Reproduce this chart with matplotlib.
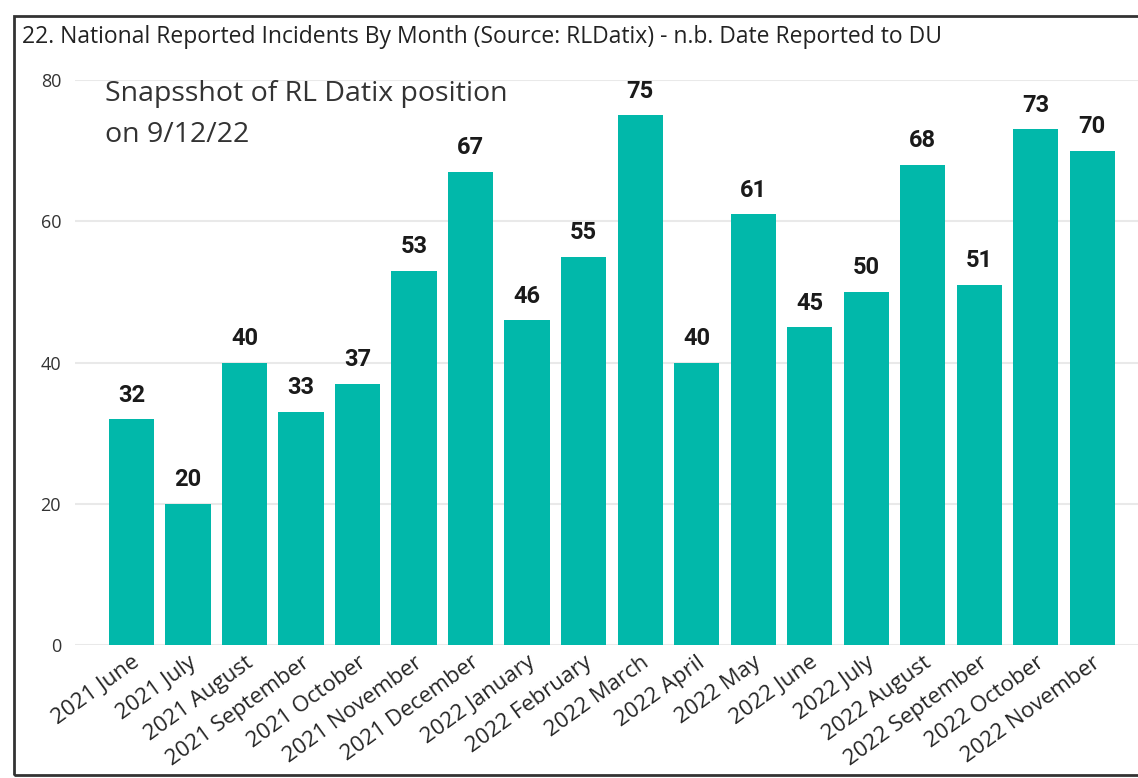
import matplotlib
matplotlib.use("Agg")
import matplotlib.pyplot as plt
from matplotlib.patches import Rectangle

months = ["2021 June", "2021 July", "2021 August", "2021 September", "2021 October",
          "2021 November", "2021 December", "2022 January", "2022 February", "2022 March",
          "2022 April", "2022 May", "2022 June", "2022 July", "2022 August",
          "2022 September", "2022 October", "2022 November"]
incidents = [32, 20, 40, 33, 37, 53, 67, 46, 55, 75, 40, 61, 45, 50, 68, 51, 73, 70]
yticks = [0, 20, 40, 60, 80]

title = "22. National Reported Incidents By Month (Source: RLDatix) - n.b. Date Reported to DU"
note_lines = ["Snapsshot of RL Datix position", "on 9/12/22"]

W, H = 1138, 778
fig = plt.figure(figsize=(W / 100, H / 100), dpi=100)
fig.patch.set_facecolor("white")

ax = fig.add_axes([75 / W, 1 - 645 / H, 1 - 75 / W, (645 - 80) / H])
x = list(range(len(months)))
ax.bar(x, incidents, width=0.8, color="#01B8AA", zorder=3)
ax.set_xlim(-1.0, 17.81)
ax.set_ylim(0, 80)
ax.set_yticks(yticks)
ax.grid(axis="y", color="#e9e9e9", linewidth=1.5, zorder=0)
for s in ax.spines.values():
    s.set_visible(False)
ax.tick_params(axis="both", length=0)
ax.tick_params(axis="y", pad=10, labelsize=13, labelcolor="#333333")
ax.set_yticklabels([str(v) for v in yticks], family=["Open Sans", "DejaVu Sans"])
ax.set_xticks(x)
ax.set_xticklabels(months, rotation=36, ha="right", rotation_mode="anchor",
                   fontsize=16, color="#252525", family=["Open Sans", "DejaVu Sans"])
ax.tick_params(axis="x", pad=5)

for xi, v in zip(x, incidents):
    ax.annotate(str(v), (xi, v), xytext=(0, 9), textcoords="offset points",
                ha="center", va="bottom", fontsize=17, fontweight="bold",
                family=["Roboto", "DejaVu Sans"], color="#1a1a1a", clip_on=False)

fig.text(22 / W, 1 - 37 / H, title, fontsize=16.5, color="#222222",
         family=["Open Sans", "DejaVu Sans"], va="center", ha="left")
for i, line in enumerate(note_lines):
    fig.text(105 / W, 1 - (94 + 41 * i) / H, line, fontsize=20.5, color="#333333",
             family=["Open Sans", "DejaVu Sans"], va="center", ha="left")

fig.patches.append(Rectangle((14 / W, 1 - 775 / H), 1.2, (775 - 16) / H,
                             transform=fig.transFigure, fill=False,
                             edgecolor="#333333", linewidth=2))

fig.savefig("out.png", dpi=100)
